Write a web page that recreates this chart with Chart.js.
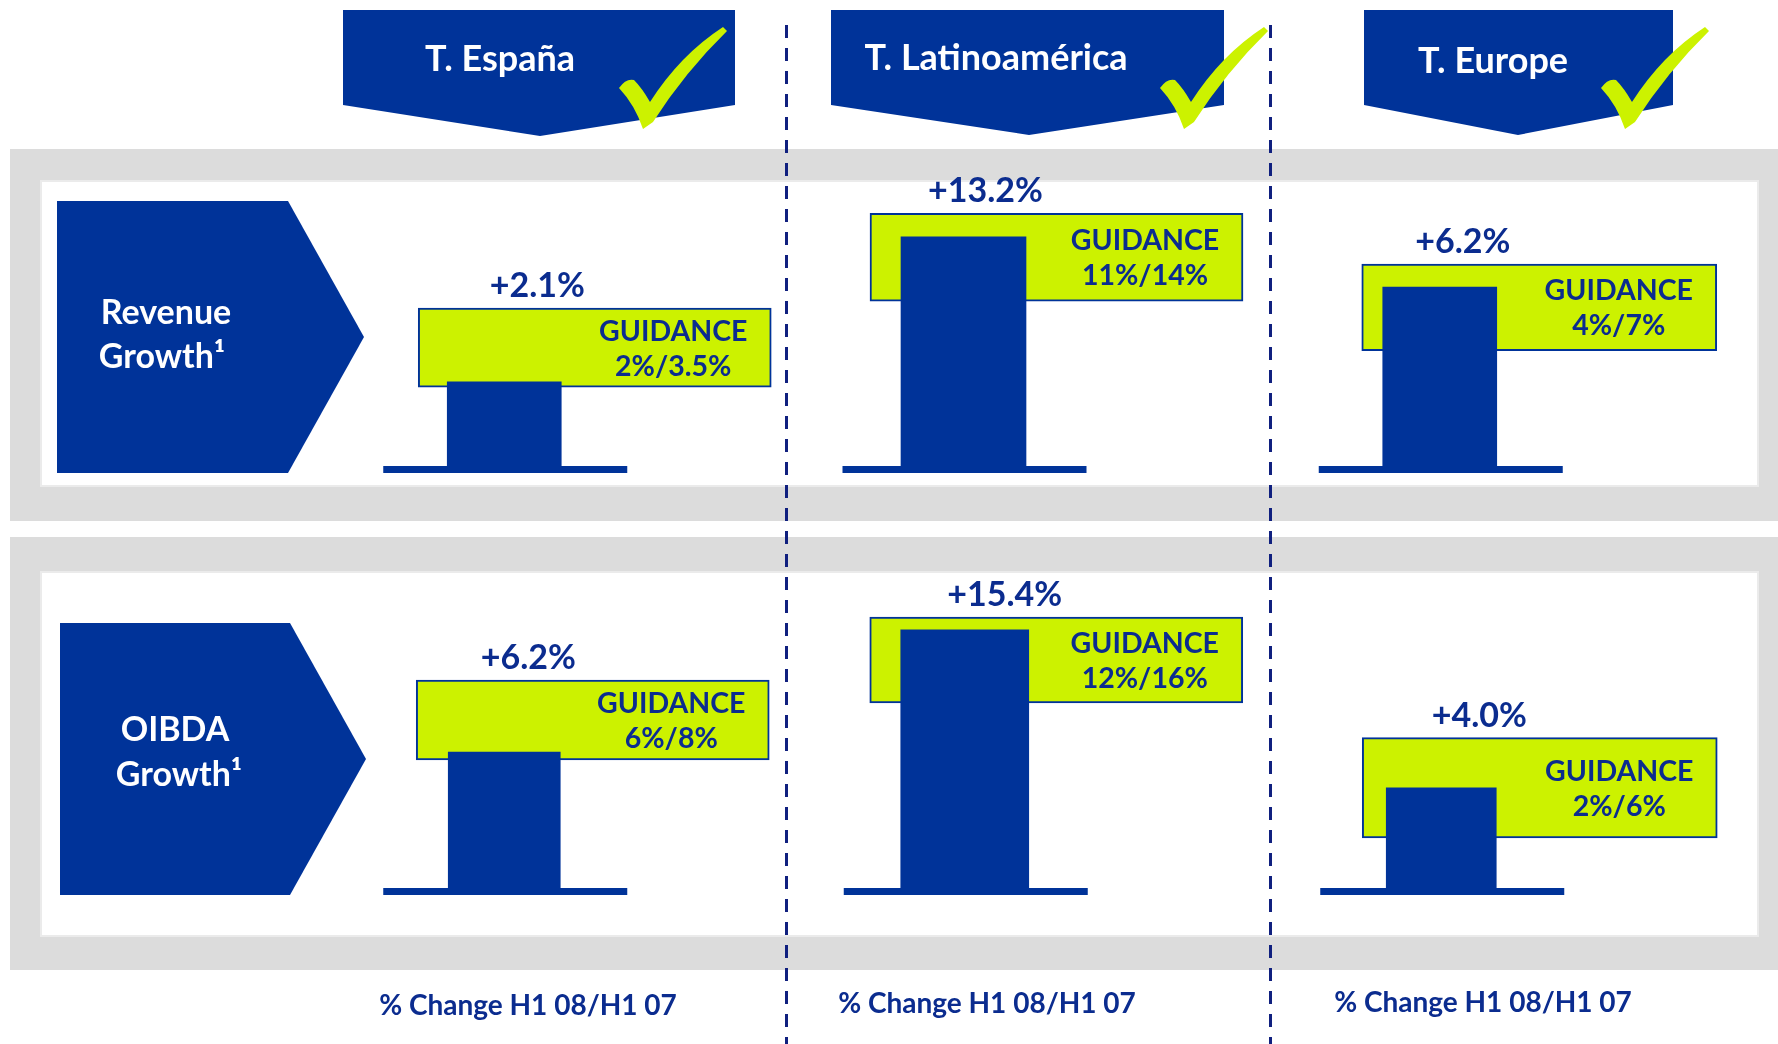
<!DOCTYPE html>
<html>
<head>
<meta charset="utf-8">
<script src="https://cdn.jsdelivr.net/npm/chart.js@4.4.1/dist/chart.umd.min.js"></script>
<style>
html,body{margin:0;padding:0;background:#fff;}
body{width:1778px;height:1044px;position:relative;overflow:hidden;font-family:Lato,"Open Sans",sans-serif;font-weight:700;}
.abs{position:absolute;left:0;top:0;}
.txt{position:absolute;white-space:nowrap;line-height:1;transform:translateX(-50%);}
.panel{position:absolute;}
</style>
</head>
<body>
<svg class="abs" width="1778" height="1044">
  <rect x="10" y="149" width="1768" height="372" fill="#DCDCDC"/>
  <rect x="41" y="181" width="1717" height="305" fill="#FFFFFF" stroke="#EBEBEB" stroke-width="2"/>
  <rect x="10" y="537" width="1768" height="433" fill="#DCDCDC"/>
  <rect x="41" y="572" width="1717" height="364" fill="#FFFFFF" stroke="#EBEBEB" stroke-width="2"/>
  <polygon points="343,10 735,10 735,105 540,136 343,105" fill="#003399"/>
  <polygon points="831,10 1224,10 1224,105 1029,135 831,105" fill="#003399"/>
  <polygon points="1364,10 1673,10 1673,105 1518,135 1364,105" fill="#003399"/>
  <polygon points="57,201 288,201 364,337 288,473 57,473" fill="#003399"/>
  <polygon points="60,623 290,623 366,759 290,895 60,895" fill="#003399"/>
  <g fill="#CCF200">
    <path id="chk" d="M619,88 Q626,78 634,80 Q642,88 650,102 Q680,55 723,27 L727,31 Q685,72 653,122 L643,129 Q635,105 619,88 Z"/>
    <use href="#chk" x="541" y="0"/>
    <use href="#chk" x="982" y="0"/>
  </g>
</svg>
<div id="panels"></div>
<svg class="abs" width="1778" height="1044" style="pointer-events:none">
  <line x1="786.5" y1="25" x2="786.5" y2="1044" stroke="#10207F" stroke-width="3" stroke-dasharray="13 10"/>
  <line x1="1270.5" y1="25" x2="1270.5" y2="1044" stroke="#10207F" stroke-width="3" stroke-dasharray="13 10"/>
</svg>
<div id="texts"></div>
<script>
// ---------------- data ----------------
const regions = ['T. España', 'T. Latinoamérica', 'T. Europe'];
const metricNames = [['Revenue', 'Growth¹'], ['OIBDA', 'Growth¹']];
const barCategories = ['H1 08/H1 07', 'Guidance'];
const revenueGrowth = [2.1, 13.2, 6.2];
const revenueGuidanceLow = [2, 11, 4];
const revenueGuidanceHigh = [3.5, 14, 7];
const oibdaGrowth = [6.2, 15.4, 4.0];
const oibdaGuidanceLow = [6, 12, 2];
const oibdaGuidanceHigh = [8, 16, 6];
const periodLabel = '% Change H1 08/H1 07';

// ---------------- layout / style ----------------
const BLUE = '#003399';
const LIME = '#CCF200';
const TEXTBLUE = '#0B2C8F';
const rows = [
  { growth: revenueGrowth, low: revenueGuidanceLow, high: revenueGuidanceHigh, top: 150, height: 350, base: 466 },
  { growth: oibdaGrowth, low: oibdaGuidanceLow, high: oibdaGuidanceHigh, top: 540, height: 420, base: 888 }
];
// per panel: bar centre/width, guidance centre/width, axis min & pixels per unit, label shift
const panelLayout = [
  [ {cb:504, bw:114, cg:594.5, gw:353, yMin:0.5, ppu:52.6, dx:33},
    {cb:963.5, bw:125, cg:1056.5, gw:373, yMin:5.36, ppu:29.24, dx:22},
    {cb:1440, bw:114, cg:1539.5, gw:355, yMin:0, ppu:28.85, dx:23} ],
  [ {cb:504, bw:112, cg:592.5, gw:353, yMin:2.8, ppu:40, dx:24},
    {cb:965, bw:128, cg:1056.5, gw:373, yMin:3.395, ppu:21.5, dx:40},
    {cb:1441, bw:110, cg:1539.5, gw:355, yMin:0, ppu:25.07, dx:38} ]
];
const headerPos = [ {x:500, y:71}, {x:996, y:70}, {x:1493, y:73} ];
const rowLabelPos = [ [{x:166,y:324},{x:162,y:368}], [{x:175,y:741},{x:179,y:786}] ];
const periodPos = [ {x:528, y:1015}, {x:987, y:1013}, {x:1483, y:1012} ];

const fmtGrowth = v => '+' + v.toFixed(1) + '%';
const fmtRange = (lo, hi) => lo + '%/' + hi + '%';

function addText(str, cx, baseline, size, color) {
  const d = document.createElement('div');
  d.className = 'txt';
  d.textContent = str;
  d.style.fontSize = size + 'px';
  d.style.color = color;
  d.style.left = cx + 'px';
  d.style.top = (baseline - 0.887 * size) + 'px';
  document.getElementById('texts').appendChild(d);
}

regions.forEach((r, i) => addText(r, headerPos[i].x, headerPos[i].y, 36, '#FFFFFF'));
metricNames.forEach((lines, r) => lines.forEach((s, k) => addText(s, rowLabelPos[r][k].x, rowLabelPos[r][k].y, 34, '#FFFFFF')));
regions.forEach((r, i) => addText(periodLabel, periodPos[i].x, periodPos[i].y, 28, TEXTBLUE));

const panelDecor = {
  id: 'panelDecor',
  afterDatasetsDraw(chart, args, opts) {
    const ctx = chart.ctx;
    const bar = chart.getDatasetMeta(0).data[0];
    const g = chart.getDatasetMeta(1).data[1];
    const y0 = chart.scales.y.bottom;
    ctx.save();
    ctx.fillStyle = BLUE;
    ctx.fillRect(bar.x - 121, y0, 244, 7);
    const gTop = Math.min(g.y, g.base);
    const gMid = (g.y + g.base) / 2;
    const gRight = g.x + g.width / 2;
    ctx.fillStyle = TEXTBLUE;
    ctx.textAlign = 'center';
    ctx.textBaseline = 'alphabetic';
    ctx.font = '700 34px Lato, "Open Sans", sans-serif';
    ctx.fillText(opts.valueText, bar.x + opts.dx, gTop - 11);
    ctx.font = '700 28.5px Lato, "Open Sans", sans-serif';
    ctx.fillText('GUIDANCE', gRight - 98, gMid - 7);
    ctx.fillText(opts.rangeText, gRight - 98, gMid + 28);
    ctx.restore();
  }
};

function build() {
  const host = document.getElementById('panels');
  rows.forEach((row, r) => {
    regions.forEach((region, i) => {
      const L = panelLayout[r][i];
      const W = 2 * (L.cg - L.cb);
      const left = L.cb - W / 4;
      const padL = 150, padR = 200, padT = 10;
      const padB = row.top + row.height - row.base;
      const areaH = row.height - padT - padB;
      const div = document.createElement('div');
      div.className = 'panel';
      div.style.left = (left - padL) + 'px';
      div.style.top = row.top + 'px';
      div.style.width = (W + padL + padR) + 'px';
      div.style.height = row.height + 'px';
      const cv = document.createElement('canvas');
      div.appendChild(cv);
      host.appendChild(div);
      new Chart(cv, {
        type: 'bar',
        data: {
          labels: barCategories,
          datasets: [
            { label: 'Growth', data: [row.growth[i], null], backgroundColor: BLUE, borderWidth: 0,
              base: L.yMin, barThickness: L.bw, grouped: false, order: 0, clip: false },
            { label: 'Guidance', data: [null, [row.low[i], row.high[i]]], backgroundColor: LIME,
              borderColor: BLUE, borderWidth: 2, borderSkipped: false,
              barThickness: L.gw, grouped: false, order: 1, clip: false }
          ]
        },
        options: {
          responsive: true, maintainAspectRatio: false, animation: false,
          layout: { padding: { left: padL, right: padR, top: padT, bottom: padB } },
          scales: {
            x: { display: false, offset: true },
            y: { display: false, beginAtZero: false, min: L.yMin, max: L.yMin + areaH / L.ppu }
          },
          plugins: {
            legend: { display: false }, tooltip: { enabled: false },
            panelDecor: { valueText: fmtGrowth(row.growth[i]), rangeText: fmtRange(row.low[i], row.high[i]), dx: L.dx }
          },
          events: []
        },
        plugins: [panelDecor]
      });
    });
  });
}
Promise.all([
  document.fonts.load('700 34px Lato'),
  document.fonts.load('700 28px Lato')
]).then(build, build);
</script>
</body>
</html>
